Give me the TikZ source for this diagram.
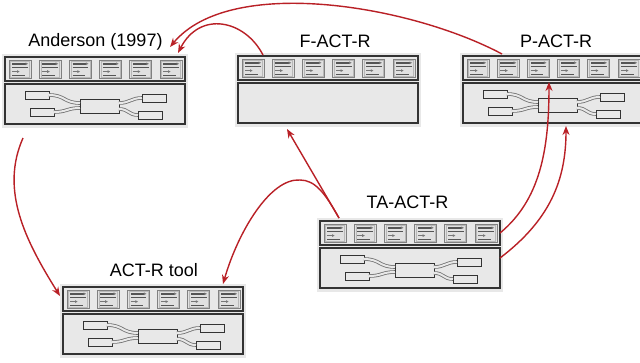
\documentclass[tikz,border=0pt]{standalone}
\usepackage{fontspec}
\setmainfont{Liberation Sans}
\usetikzlibrary{arrows.meta,calc}
\definecolor{modbgc}{HTML}{E8E8E8}
\definecolor{edgec}{HTML}{333333}
\definecolor{arrc}{RGB}{185,32,38}
\definecolor{cardfill}{HTML}{E0E0E0}
\definecolor{cardedge}{HTML}{808080}
\definecolor{cardinner}{HTML}{B8B8B8}
\definecolor{cardlc}{HTML}{555555}
\definecolor{cardlc2}{HTML}{777777}
\definecolor{bandc}{HTML}{707070}
\tikzset{
  modbg/.style={fill=modbgc, draw=none, minimum width=186pt, minimum height=74pt, inner sep=0pt, outer sep=0pt},
  barbox/.style={fill=modbgc, draw=edgec, line width=1.1pt, minimum width=180pt, minimum height=24pt, inner sep=0pt, outer sep=0pt},
  bodybox/.style={barbox, minimum height=40pt},
  smallbox/.style={fill=modbgc, draw=edgec, line width=1pt, inner sep=0pt, outer sep=0pt, minimum width=24pt, minimum height=8pt},
  centerbox/.style={smallbox, minimum width=39pt, minimum height=14pt},
  band/.style={draw=bandc, line width=0.8pt, double=modbgc, double distance=2pt},
  cardout/.style={draw=cardedge, fill=cardfill, line width=0.9pt},
  cardin/.style={draw=cardinner, line width=0.6pt},
  cardline/.style={draw=cardlc},
  rel/.style={draw=arrc, line width=1.4pt, -{Stealth[length=9pt,width=7pt]}},
  lbl/.style={font=\fontsize{18}{20}\selectfont, inner sep=0pt, anchor=base, text=black},
}
\newcommand\mycard[2]{%
  \begin{scope}[shift={(#1,#2)}]
    \draw[cardout] (0,0) rectangle (22,18.5);
    \draw[cardin] (1.6,1.6) rectangle (20.4,16.9);
    \draw[cardline, line width=1.6pt] (3.2,3.8) -- (17,3.8);
    \fill[cardlc2] (16.5,2.4) -- (19.1,3.8) -- (16.5,5.2) -- cycle;
    \draw[cardline, line width=1pt] (3.2,7) -- (19,7);
    \draw[cardline, draw=cardlc2, line width=1.6pt] (3.2,11.6) -- (8.5,11.6);
    \fill[cardlc2] (8,10.2) -- (10.6,11.6) -- (8,13) -- cycle;
    \draw[cardline, line width=1pt] (3.2,15) -- (16,15);
  \end{scope}}
\newcommand\drawmodule[4]{%
  \begin{scope}[shift={(#2,#3)}]
    \node[modbg] (#1) at (93,37) {};
    \node[barbox] (#1-bar) at (93,15) {};
    \node[bodybox] (#1-body) at (93,50) {};
    \foreach \k in {0,...,5}{\mycard{7+30.2*\k}{6}}
    \ifnum#4=1
      \node[smallbox] (#1-l1) at (35,41) {};
      \node[smallbox] (#1-l2) at (40,58) {};
      \node[centerbox] (#1-c) at (97.5,52) {};
      \node[smallbox] (#1-r1) at (152,44) {};
      \node[smallbox] (#1-r2) at (148,61) {};
      \draw[band] (#1-l1.east) .. controls +(16,0) and +(-16,0) .. ($(#1-c.west)+(0,-3)$);
      \draw[band] (#1-l2.east) .. controls +(13,0) and +(-13,0) .. ($(#1-c.west)+(0,2)$);
      \draw[band] ($(#1-c.east)+(0,-3)$) .. controls +(11,0) and +(-11,0) .. (#1-r1.west);
      \draw[band] ($(#1-c.east)+(0,3)$) .. controls +(10,0) and +(-10,0) .. (#1-r2.west);
    \fi
  \end{scope}}
\begin{document}
\begin{tikzpicture}[x=1pt,y=-1pt]
  \useasboundingbox (0,0) rectangle (640,362);
  \clip (0,0) rectangle (640,362);
  \fill[white] (0,0) rectangle (640,362);
  \drawmodule{anders}{2}{54}{1}
  \drawmodule{fact}{235}{53}{0}
  \drawmodule{pact}{460}{53}{1}
  \drawmodule{ta}{317}{218}{1}
  \drawmodule{tool}{60}{284}{1}
  \node[lbl] (anders-lbl) at (95.5,46) {Anderson (1997)};
  \node[lbl] (fact-lbl) at (335,47) {F-ACT-R};
  \node[lbl] (pact-lbl) at (556,47) {P-ACT-R};
  \node[lbl] (ta-lbl) at (407.5,208) {TA-ACT-R};
  \node[lbl] (tool-lbl) at (154,276) {ACT-R tool};
  % connectors
  \draw[rel] ($(pact.north west)+(42,1)$) .. controls (410,5) and (230,-25) .. ($(anders.north east)+(-18,-7)$);
  \draw[rel] ($(fact.north west)+(28,2)$) .. controls (245,20) and (200,10) .. ($(anders.north east)+(-10,-1)$);
  \draw[rel] ($(anders.south west)+(21,10)$) .. controls (0,190) and (25,240) .. ($(tool.north west)+(0,12)$);
  \draw[rel] ($(ta.north west)+(22,0)$) -- ($(fact.south west)+(52,2)$);
  \draw[rel] ($(ta.north west)+(22,0)$) .. controls (325,193) and (315,180) .. (300,180) .. controls (270,178) and (238,232) .. ($(tool.north east)+(-23,0)$);
  \draw[rel] ($(ta.north east)+(-3,15)$) .. controls (540,200) and (549,150) .. ($(pact.north west)+(89,29)$);
  \draw[rel] ($(ta.north east)+(-3,40)$) .. controls (550,220) and (566,180) .. ($(pact.south west)+(106,-1)$);
\end{tikzpicture}
\end{document}
